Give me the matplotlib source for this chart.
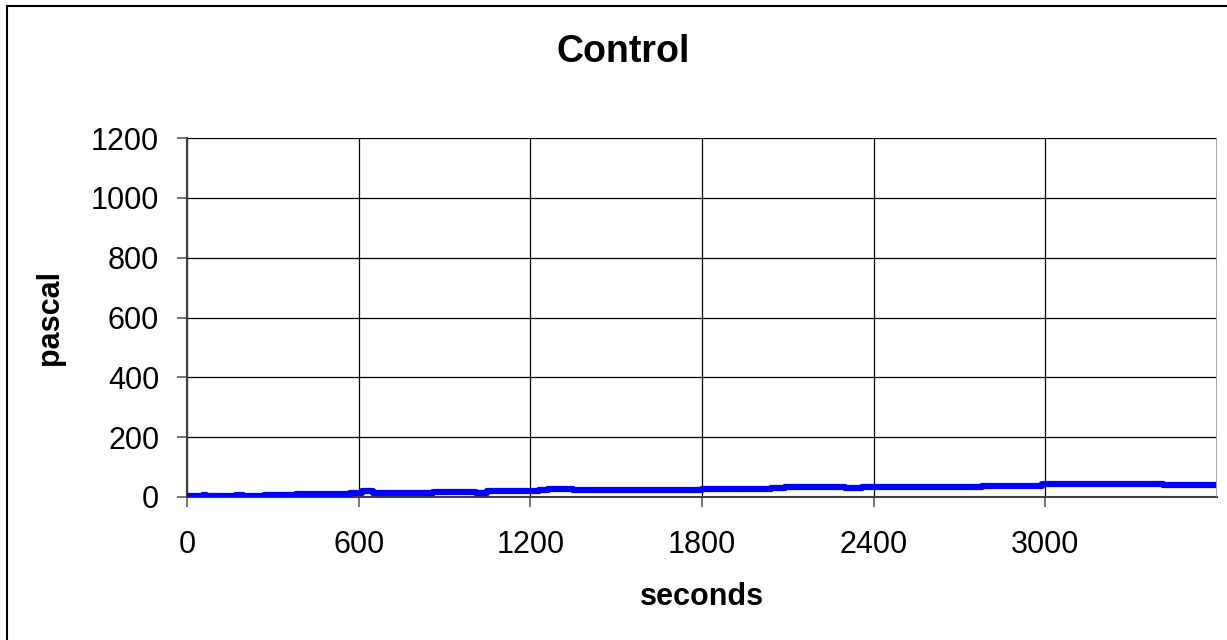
import matplotlib.pyplot as plt
from matplotlib.patches import Rectangle

plt.rcParams['font.family'] = ['Liberation Sans', 'DejaVu Sans']

# данні
sec = [0, 55, 65, 100, 170, 195, 250, 270, 380, 570, 610, 650, 700, 860, 1010,
       1050, 1230, 1260, 1350, 1450, 1590, 1620, 1700, 1800, 2040, 2090, 2300,
       2360, 2400, 2560, 2780, 2990, 3410, 3600]
pa = [3, 8, 3, 3, 6, 3, 3, 6, 10, 14, 20, 14, 14, 18, 14,
      20, 22, 28, 22, 25, 22, 25, 25, 27, 30, 33, 30,
      33, 33, 33, 38, 45, 40, 40]
x_ticks = [0, 600, 1200, 1800, 2400, 3000]
y_ticks = [0, 200, 400, 600, 800, 1000, 1200]

fig = plt.figure(figsize=(12.27, 6.4), dpi=100)
ax = fig.add_axes([187 / 1227, 1 - 497 / 640, (1217 - 187) / 1227, (497 - 138) / 640])

ax.plot(sec, pa, color='#0000ff', linewidth=4.5, drawstyle='steps-post',
        solid_capstyle='butt', zorder=3)

ax.set_xlim(0, 3600)
ax.set_ylim(0, 1200)
ax.set_xticks(x_ticks)
ax.set_yticks(y_ticks)
ax.tick_params(labelsize=22, length=7, color='#606060', width=1.2)
ax.tick_params(axis='y', pad=13)
ax.tick_params(axis='x', pad=17)
ax.grid(True, color='black', linewidth=0.9)

for s in ['top', 'right']:
    ax.spines[s].set_visible(False)
ax.spines['left'].set_color('#404040')
ax.spines['bottom'].set_color('#404040')
ax.spines['left'].set_linewidth(1.5)
ax.spines['bottom'].set_linewidth(1.5)
ax.axvline(3600, color='#a0a0a0', linewidth=2, zorder=4)

ax.set_xlabel('seconds', fontsize=22, fontweight='bold')
ax.set_ylabel('pascal', fontsize=22, fontweight='bold')
ax.xaxis.set_label_coords(0.5, -0.237)
ax.yaxis.set_label_coords(-0.118, 0.5)
fig.text(0.508, 1 - 52 / 640, 'Control', fontsize=27, fontweight='bold',
         ha='center', va='center')

# рамка навколо діаграми
fig.patches.append(Rectangle((7 / 1227, -0.1), 1.2, 1 - 6 / 640 + 0.1,
                             transform=fig.transFigure, fill=False,
                             edgecolor='black', linewidth=1.5))

fig.savefig('out.png', dpi=100)
